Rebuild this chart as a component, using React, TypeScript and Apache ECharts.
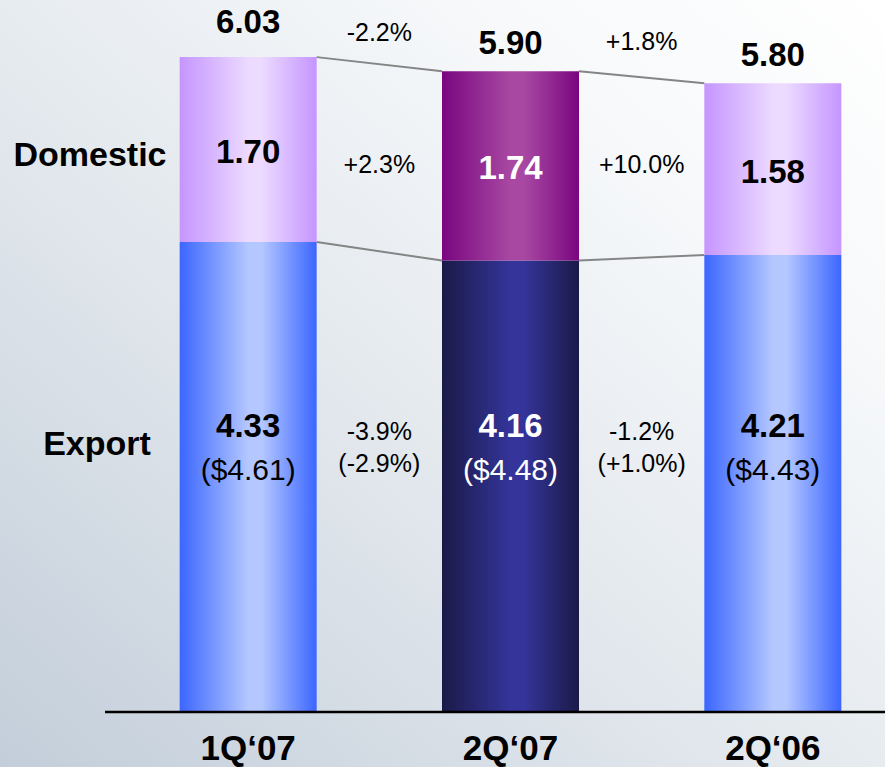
import React, { useEffect, useRef } from 'react';
import * as echarts from 'echarts';

const categories = ['1Q‘07', '2Q‘07', '2Q‘06'];
const exportValues = [4.33, 4.16, 4.21];
const exportUsd = [4.61, 4.48, 4.43];
const domesticValues = [1.7, 1.74, 1.58];
const totals = [6.03, 5.9, 5.8];
const totalChange = ['-2.2%', '+1.8%'];
const domesticChange = ['+2.3%', '+10.0%'];
const exportChange = ['-3.9%', '-1.2%'];
const exportUsdChange = ['(-2.9%)', '(+1.0%)'];

const HIGHLIGHT = 1;
const FONT = '"Liberation Sans", Arial, Helvetica, sans-serif';
const BAR_W = 137;
const TOTAL_LABEL_GAP = [19, 12, 12];

const grad = (edge: string, mid: string) =>
  new echarts.graphic.LinearGradient(0, 0, 1, 0, [
    { offset: 0, color: edge },
    { offset: 0.5, color: mid },
    { offset: 0.6, color: mid },
    { offset: 1, color: edge },
  ]);

export default function App() {
  const ref = useRef<HTMLDivElement>(null);
  useEffect(() => {
    if (!ref.current) return;
    const chart = echarts.init(ref.current, undefined, { renderer: 'svg' });

    const exportData = exportValues.map((v, i) => ({
      value: v,
      itemStyle: {
        color: i === HIGHLIGHT ? grad('#1a1a48', '#34349a') : grad('#3b66ff', '#b4c7ff'),
      },
    }));
    const domesticData = domesticValues.map((v, i) => ({
      value: v,
      itemStyle: {
        color: i === HIGHLIGHT ? grad('#7a0680', '#a848a2') : grad('#c595ff', '#ecdaff'),
      },
      label: { color: i === HIGHLIGHT ? '#ffffff' : '#000000' },
    }));
    const totalData = totals.map((t, i) => ({
      value: exportValues[i] + domesticValues[i],
      label: { distance: TOTAL_LABEL_GAP[i] },
    }));

    const connectors = [
      [0, totals[0], totals[1]],
      [1, totals[1], exportValues[2] + domesticValues[2]],
      [0, exportValues[0], exportValues[1]],
      [1, exportValues[1], exportValues[2]],
    ];

    chart.setOption({
      animation: false,
      backgroundColor: 'transparent',
      grid: { left: 117, width: 787, top: 6, bottom: 54, containLabel: false, outerBoundsMode: 'none' },
      xAxis: {
        type: 'category',
        data: categories,
        axisLine: { show: false },
        axisTick: { show: false },
        axisLabel: {
          margin: 17,
          fontFamily: FONT,
          fontSize: 35,
          lineHeight: 35,
          fontWeight: 'bold',
          color: '#000',
        },
      },
      yAxis: { type: 'value', min: 0, max: 6.5, show: false, splitLine: { show: false } },
      series: [
        {
          name: 'Export',
          type: 'bar',
          stack: 'total',
          barWidth: BAR_W,
          data: exportData,
          label: {
            show: true,
            position: 'insideBottom',
            distance: 222,
            formatter: (p: any) => {
              const w = p.dataIndex === HIGHLIGHT ? 'w' : '';
              return `{b${w}|${exportValues[p.dataIndex].toFixed(2)}}\n{n${w}|($${exportUsd[p.dataIndex].toFixed(2)})}`;
            },
            rich: {
              b: { fontFamily: FONT, fontSize: 33, fontWeight: 'bold', lineHeight: 44, color: '#000' },
              n: { fontFamily: FONT, fontSize: 30, lineHeight: 44, color: '#000' },
              bw: { fontFamily: FONT, fontSize: 33, fontWeight: 'bold', lineHeight: 44, color: '#fff' },
              nw: { fontFamily: FONT, fontSize: 30, lineHeight: 44, color: '#fff' },
            },
          },
        },
        {
          name: 'Domestic',
          type: 'bar',
          stack: 'total',
          barWidth: BAR_W,
          data: domesticData,
          label: {
            show: true,
            position: 'inside',
            offset: [0, 2],
            fontFamily: FONT,
            fontSize: 33,
            fontWeight: 'bold',
            formatter: (p: any) => domesticValues[p.dataIndex].toFixed(2),
          },
        },
        {
          name: 'Total',
          type: 'scatter',
          symbolSize: 0,
          itemStyle: { opacity: 1, color: 'transparent' },
          data: totalData,
          label: {
            show: true,
            position: 'top',
            fontFamily: FONT,
            fontSize: 33,
            fontWeight: 'bold',
            color: '#000',
            lineHeight: 34,
            formatter: (p: any) => totals[p.dataIndex].toFixed(2),
          },
          z: 5,
        },
        {
          name: 'Connectors',
          type: 'custom',
          data: connectors,
          encode: { x: 0, y: [1, 2] },
          z: 4,
          renderItem: (params: any, api: any) => {
            const i = api.value(0);
            const p0 = api.coord([i, api.value(1)]);
            const p1 = api.coord([i + 1, api.value(2)]);
            const half = BAR_W / 2;
            return {
              type: 'line',
              shape: { x1: p0[0] + half, y1: p0[1], x2: p1[0] - half, y2: p1[1] },
              style: { stroke: '#858585', lineWidth: 2 },
            };
          },
        },
      ],
    });

    const px = (i: number, v: number) => chart.convertToPixel({ gridIndex: 0 }, [i, v]) as number[];
    const base = px(0, 0)[1];
    const mids = [0, 1].map((i) => (px(i, 0)[0] + px(i + 1, 0)[0]) / 2);
    const txt = (text: string, x: number, y: number, size: number, bold = false) => ({
      type: 'text',
      x,
      y,
      z: 50,
      style: {
        text,
        fontFamily: FONT,
        fontSize: size,
        fontWeight: bold ? 'bold' : 'normal',
        fill: '#000',
        align: 'center',
        verticalAlign: 'middle',
      },
    });
    const topY = [32, 41];
    const graphics: any[] = [
      {
        type: 'line',
        z: 100,
        shape: { x1: 105, y1: base - 1, x2: 885, y2: base - 1 },
        style: { stroke: '#000', lineWidth: 2.5 },
      },
      txt('Domestic', 90, 154, 34, true),
      txt('Export', 97, 443, 34, true),
    ];
    mids.forEach((x, k) => {
      graphics.push(txt(totalChange[k], x, topY[k], 25));
      graphics.push(txt(domesticChange[k], x, 164, 25));
      graphics.push(txt(exportChange[k], x, 431, 25));
      graphics.push(txt(exportUsdChange[k], x, 463, 25));
    });
    chart.setOption({ graphic: graphics });

    return () => chart.dispose();
  }, []);

  return (
    <div
      style={{
        position: 'fixed',
        left: 0,
        top: 0,
        width: 885,
        height: 767,
        background: 'linear-gradient(to top right, #c3ceda 0%, #e4e9ee 45%, #f6f8fa 75%, #ffffff 100%)',
      }}
    >
      <div ref={ref} style={{ width: 885, height: 767 }} />
    </div>
  );
}
